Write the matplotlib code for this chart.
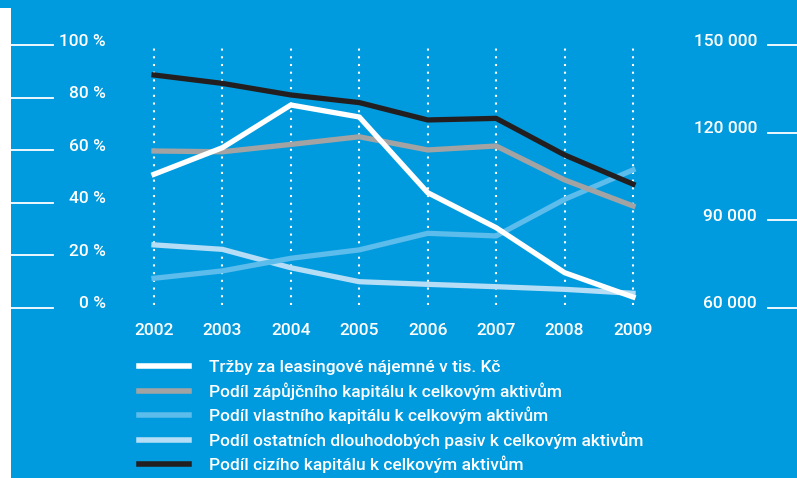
import matplotlib
matplotlib.use("Agg")
import matplotlib.pyplot as plt
import matplotlib.transforms as mtransforms
from matplotlib.lines import Line2D
from matplotlib.patches import Rectangle

years = [2002, 2003, 2004, 2005, 2006, 2007, 2008, 2009]

# right axis, tis. Kc
trzby = [105750, 114860, 129470, 125360, 99460, 87490, 72090, 63760]
# left axis, %
zapujcni = [59.7, 59.4, 62.2, 65.1, 60.1, 61.6, 48.7, 38.8]
vlastni = [11.3, 14.1, 18.9, 22.1, 28.4, 27.4, 41.3, 52.5]
ostatni = [24.0, 22.3, 15.3, 10.0, 9.0, 8.1, 7.1, 5.6]
cizi = [88.6, 85.4, 81.0, 78.1, 71.5, 72.1, 58.2, 47.1]

left_ticks = [0, 20, 40, 60, 80, 100]
left_labels = ["0 %", "20 %", "40 %", "60 %", "80 %", "100 %"]
right_ticks = [60000, 90000, 120000, 150000]
right_labels = ["60 000", "90 000", "120 000", "150 000"]

labels = ["Tržby za leasingové nájemné v tis. Kč",
          "Podíl zápůjčního kapitálu k celkovým aktivům",
          "Podíl vlastního kapitálu k celkovým aktivům",
          "Podíl ostatních dlouhodobých pasiv k celkovým aktivům",
          "Podíl cizího kapitálu k celkovým aktivům"]

BG = "#009bde"
C_WHITE = "#ffffff"
C_GRAY = "#a3a3a3"
C_MID = "#5cbcec"
C_LIGHT = "#b5ddf6"
C_BLACK = "#231f20"

plt.rcParams['font.family'] = ['Roboto', 'DejaVu Sans']
plt.rcParams['font.weight'] = 500
FS = 12.5

W, H = 797, 478
fig = plt.figure(figsize=(W / 100, H / 100), dpi=100, facecolor=BG)
fig.add_artist(Rectangle((0, 0), 11 / W, (H - 8) / H, transform=fig.transFigure,
                         facecolor="white", edgecolor="none"))

x0, x1 = 154, 633
ytop, ybot = 45, 308
ax = fig.add_axes([x0 / W, (H - ybot) / H, (x1 - x0) / W, (ybot - ytop) / H])
ax.set_facecolor("none")
ax.set_xlim(2002, 2009)
ax.set_ylim(0, 100)
for s in ax.spines.values():
    s.set_visible(False)
ax.set_yticks([])
ax.set_xticks(years)
ax.set_xticklabels([str(y) for y in years], color="white", fontsize=FS)
ax.tick_params(axis="x", length=0, pad=11)

# dotted grid
for yr in years:
    ax.plot([yr, yr], [1, 99], color="white", lw=1.5, ls=(0, (1, 2.7)),
            clip_on=False, zorder=1)

ax2 = ax.twinx()
ax2.set_ylim(60000, 150000)
for s in ax2.spines.values():
    s.set_visible(False)
ax2.set_yticks([])

lw = 3.8
l_ost, = ax.plot(years, ostatni, color=C_LIGHT, lw=lw, clip_on=False, zorder=3)
l_vl, = ax.plot(years, vlastni, color=C_MID, lw=lw, clip_on=False, zorder=3)
l_zap, = ax.plot(years, zapujcni, color=C_GRAY, lw=lw, clip_on=False, zorder=3)
l_ciz, = ax.plot(years, cizi, color=C_BLACK, lw=lw, clip_on=False, zorder=4)
l_tr, = ax2.plot(years, trzby, color=C_WHITE, lw=lw, clip_on=False, zorder=5)

# left ticks
up = mtransforms.ScaledTranslation(0, 4 / 100, fig.dpi_scale_trans)
tl = mtransforms.blended_transform_factory(fig.transFigure, ax.transData)
for v, t in zip(left_ticks, left_labels):
    fig.add_artist(Line2D([11 / W, 53 / W], [v, v], transform=tl, color="white", lw=1.3))
    ax.text(106 / W, v, t, transform=tl + up,
            ha="right", va="center", color="white", fontsize=FS)

tr = mtransforms.blended_transform_factory(fig.transFigure, ax2.transData)
for v, t in zip(right_ticks, right_labels):
    fig.add_artist(Line2D([768 / W, 1.0], [v, v], transform=tr, color="white", lw=1.3))
    ax2.text(757 / W, v, t, transform=tr + up,
             ha="right", va="center", color="white", fontsize=FS)

handles = [l_tr, l_zap, l_vl, l_ost, l_ciz]
leg = fig.legend(handles, labels, loc="upper left", bbox_to_anchor=(132 / W, 1 - 353 / H),
                 frameon=False, fontsize=FS, handlelength=2.9, handletextpad=1.15,
                 labelspacing=0.4, borderaxespad=0)
for t in leg.get_texts():
    t.set_color("white")
for h in leg.get_lines():
    h.set_linewidth(4)

fig.savefig("out.png", dpi=100, facecolor=BG)
